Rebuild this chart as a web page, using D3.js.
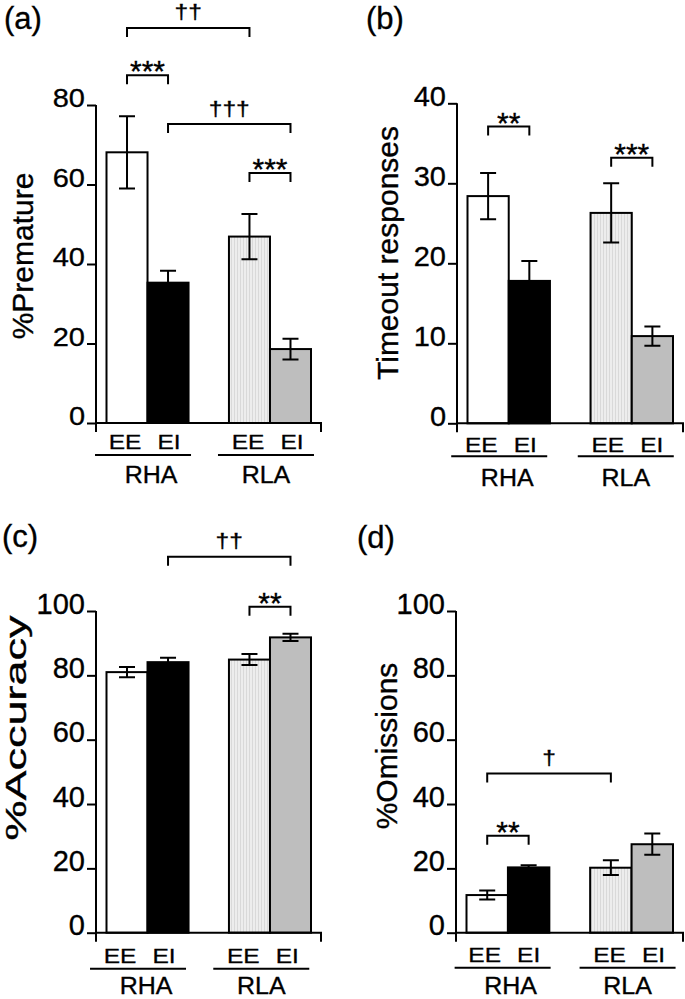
<!DOCTYPE html>
<html><head><meta charset="utf-8">
<script src="https://cdn.jsdelivr.net/npm/d3@7"></script>
<style>
body{margin:0;background:#fff}
svg{display:block}
text{font-family:"Liberation Sans",Arial,Helvetica,sans-serif;fill:#000;stroke:#000;stroke-width:0.35px}
</style>
</head><body>
<script>
// ---- data ----
const groups = ["RHA", "RLA"];
const conditions = ["EE", "EI"];
const premMean = [68.1, 35.3, 46.9, 18.6];
const premSem = [9.1, 3.0, 5.7, 2.6];
const timeoutMean = [28.4, 17.8, 26.3, 10.9];
const timeoutSem = [2.9, 2.5, 3.7, 1.2];
const accMean = [81.0, 84.1, 84.9, 91.8];
const accSem = [1.6, 1.4, 1.7, 1.1];
const omisMean = [11.7, 20.3, 20.2, 27.5];
const omisSem = [1.4, 0.7, 2.3, 3.3];
const premTicks = [0, 20, 40, 60, 80];
const timeoutTicks = [0, 10, 20, 30, 40];
const pctTicks = [0, 20, 40, 60, 80, 100];
// significance brackets: bar indices (0 RHA-EE, 1 RHA-EI, 2 RLA-EE, 3 RLA-EI), height in data units
const premSig = [
  {from: 0, to: 2, at: 99.4, label: "††"},
  {from: 0, to: 1, at: 87.5, label: "***"},
  {from: 1, to: 3, at: 75.2, label: "†††"},
  {from: 2, to: 3, at: 62.9, label: "***"}
];
const timeoutSig = [
  {from: 0, to: 1, at: 37.1, label: "**"},
  {from: 2, to: 3, at: 33.2, label: "***"}
];
const accSig = [
  {from: 1, to: 3, at: 116.9, label: "††"},
  {from: 2, to: 3, at: 101.3, label: "**"}
];
const omisSig = [
  {from: 0, to: 2, at: 49.5, label: "†"},
  {from: 0, to: 1, at: 30.1, label: "**"}
];

// ---- layout / style ----
const W = 685, H = 999;
const barFills = ["#ffffff", "#000000", "url(#stripe)", "#bebebe"];
const panels = [
  {tag: "(a)", tagX: 4, tagY: 29, mean: premMean, sem: premSem, ticks: premTicks, yMax: 80, sig: premSig,
   ylabel: "%Premature", left: 96, right: 321, y0: 423, yTop: 105, tickSy: 0.88,
   ylabX: 33, ylabY: 256, ylabAlong: 1, xOff: [-4.5, -4], xl: [26, 32, 60]},
  {tag: "(b)", tagX: 366, tagY: 29, mean: timeoutMean, sem: timeoutSem, ticks: timeoutTicks, yMax: 40, sig: timeoutSig,
   ylabel: "Timeout responses", left: 457, right: 683, y0: 423.3, yTop: 103.3, tickSy: 0.93,
   ylabX: 398, ylabY: 253, ylabAlong: 1, xOff: [-9.5, -6], xl: [29, 33, 63]},
  {tag: "(c)", tagX: 2, tagY: 547, mean: accMean, sem: accSem, ticks: pctTicks, yMax: 100, sig: accSig,
   ylabel: "%Accuracy", left: 96, right: 321, y0: 932.7, yTop: 611, tickSy: 1,
   ylabX: 26, ylabY: 728, ylabAlong: 1.5, xOff: [-9.5, -8.7], xl: [30, 36, 61.5]},
  {tag: "(d)", tagX: 357, tagY: 548, mean: omisMean, sem: omisSem, ticks: pctTicks, yMax: 100, sig: omisSig,
   ylabel: "%Omissions", left: 456, right: 683, y0: 932.7, yTop: 611, tickSy: 1,
   ylabX: 397, ylabY: 746, ylabAlong: 1, xOff: [-5.3, -4], xl: [29, 35, 61.5]}
];

const svg = d3.select("body").append("svg").attr("width", W).attr("height", H);
const defs = svg.append("defs");
const pat = defs.append("pattern").attr("id", "stripe").attr("patternUnits", "userSpaceOnUse")
  .attr("width", 3).attr("height", 3);
pat.append("rect").attr("width", 3).attr("height", 3).attr("fill", "#ededed");
pat.append("rect").attr("x", 0).attr("width", 1).attr("height", 3).attr("fill", "#d9d9d9");

function txt(g, str, x, y, size, sx, sy, anchor) {
  return g.append("text")
    .attr("transform", `translate(${x},${y}) scale(${sx},${sy})`)
    .attr("text-anchor", anchor || "middle")
    .attr("font-size", size)
    .text(str);
}

panels.forEach(p => {
  const g = svg.append("g");
  const y = d3.scaleLinear().domain([0, p.yMax]).range([p.y0, p.yTop]);
  const gx = d3.scaleBand().domain(groups).range([p.left + 10.5, p.right - 10]).paddingInner(0.33).paddingOuter(0);
  const sx = d3.scaleBand().domain(conditions).range([0, gx.bandwidth()]);
  const bars = p.mean.map((m, i) => ({
    group: groups[Math.floor(i / 2)], cond: conditions[i % 2], mean: m, sem: p.sem[i], i
  }));
  const bx = d => gx(d.group) + sx(d.cond);
  const bc = i => bx(bars[i]) + sx.bandwidth() / 2;

  // bars
  g.selectAll("rect.bar").data(bars).join("rect")
    .attr("class", "bar")
    .attr("x", d => bx(d)).attr("width", sx.bandwidth())
    .attr("y", d => y(d.mean)).attr("height", d => y(0) - y(d.mean))
    .attr("fill", d => barFills[d.i]).attr("stroke", "#000").attr("stroke-width", 2);

  // error bars
  const eb = g.selectAll("g.eb").data(bars).join("g").attr("class", "eb")
    .attr("stroke", "#000").attr("stroke-width", 2).attr("fill", "none");
  eb.append("path").attr("d", d => {
    const c = bx(d) + sx.bandwidth() / 2;
    const t = y(d.mean + d.sem), b = y(d.mean - d.sem);
    return `M${c},${t}V${b}M${c - 8},${t}H${c + 8}M${c - 8},${b}H${c + 8}`;
  });

  // axes
  const ax = d3.axisLeft(y).tickValues(p.ticks).tickSize(9).tickSizeOuter(0).tickFormat(d3.format("d"));
  const ag = g.append("g").attr("transform", `translate(${p.left},0)`).call(ax)
    .attr("font-size", null).attr("font-family", null);
  ag.select(".domain").remove();
  ag.selectAll(".tick line").attr("stroke", "#000").attr("stroke-width", 2);
  ag.selectAll(".tick text").attr("x", -11).attr("y", 2).attr("dy", null)
    .attr("font-size", 29).attr("fill", "#000")
    .attr("transform", `scale(1,${p.tickSy})`);
  g.append("path")
    .attr("d", `M${p.left},${p.yTop}V${p.y0 + 9}M${p.left},${p.y0}H${p.right}V${p.y0 + 9}`)
    .attr("stroke", "#000").attr("stroke-width", 2).attr("fill", "none");

  // x category labels
  groups.forEach((grp, gi) => {
    const lc = gx(grp) + gx.bandwidth() / 2 + p.xOff[gi];
    txt(g, conditions[0], lc - 18, p.y0 + p.xl[0], 24.5, 1, 0.84);
    txt(g, conditions[1], lc + 26, p.y0 + p.xl[0], 24.5, 1, 0.84);
    g.append("line").attr("x1", lc - 48).attr("x2", lc + 48)
      .attr("y1", p.y0 + p.xl[1]).attr("y2", p.y0 + p.xl[1])
      .attr("stroke", "#000").attr("stroke-width", 2);
    txt(g, grp, lc + (gi === 0 ? 8 : 0), p.y0 + p.xl[2], 25, 1, 0.93);
  });

  // y label
  g.append("text")
    .attr("transform", `translate(${p.ylabX},${p.ylabY}) rotate(-90) scale(${p.ylabAlong},1)`)
    .attr("text-anchor", "middle").attr("font-size", 30).text(p.ylabel);

  // panel tag
  txt(g, p.tag, p.tagX, p.tagY, 31, 1, 1, "start");

  // significance brackets
  p.sig.forEach(s => {
    const x1 = bc(s.from), x2 = bc(s.to), yt = y(s.at);
    g.append("path").attr("d", `M${x1},${yt + 9}V${yt}H${x2}V${yt + 9}`)
      .attr("stroke", "#000").attr("stroke-width", 2).attr("fill", "none");
    const isStar = s.label.indexOf("*") >= 0;
    if (isStar) txt(g, s.label, (x1 + x2) / 2, yt + 6, 30, 1, 1);
    else txt(g, s.label, (x1 + x2) / 2, yt - 8.5, 22, 1.12, 0.92);
  });
});
</script>
</body></html>
